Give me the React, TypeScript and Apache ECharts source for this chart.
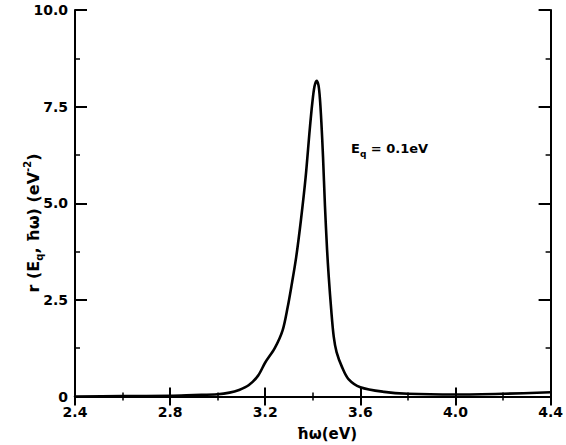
import React, { useEffect, useRef } from "react";
import * as echarts from "echarts";

const photonEnergy: number[] = [
  2.4, 2.6, 2.8, 2.9, 3.0, 3.05, 3.09, 3.13, 3.17, 3.2, 3.24, 3.273, 3.294, 3.31,
  3.33, 3.35, 3.37, 3.387, 3.398, 3.407, 3.416, 3.424, 3.43, 3.436, 3.443, 3.451,
  3.46, 3.467, 3.478, 3.488, 3.5, 3.523, 3.55, 3.6, 3.7, 3.8, 4.0, 4.2, 4.4,
];
const rateValues: number[] = [
  0.0, 0.01, 0.02, 0.04, 0.06, 0.1, 0.17, 0.29, 0.54, 0.88, 1.25, 1.71, 2.3, 2.85,
  3.6, 4.56, 5.68, 6.9, 7.6, 8.02, 8.17, 8.05, 7.7, 7.1, 6.2, 4.95,
  3.8, 3.1, 2.2, 1.55, 1.15, 0.76, 0.45, 0.24, 0.12, 0.07, 0.05, 0.07, 0.11,
];
const xRange = { min: 2.4, max: 4.4, interval: 0.4 };
const yRange = { min: 0, max: 10, interval: 2.5 };

const FONT = "DejaVu Sans";

export default function App() {
  const ref = useRef<HTMLDivElement>(null);
  useEffect(() => {
    if (!ref.current) return;
    const chart = echarts.init(ref.current, null, { renderer: "svg" });
    const data = photonEnergy.map((x, i) => [x, rateValues[i]]);
    const axisLine = { show: true, lineStyle: { color: "#000", width: 2 } };
    const xTick = { show: true, inside: true, length: 9, lineStyle: { color: "#000", width: 2 } };
    const xMinor = { show: true, splitNumber: 2, length: 4, lineStyle: { color: "#000", width: 1.5 } };
    const yTick = { show: true, inside: true, length: 12, lineStyle: { color: "#000", width: 2 } };
    const yMinor = { show: true, splitNumber: 2, length: 5, lineStyle: { color: "#000", width: 1.5 } };
    const labelFont = {
      color: "#000",
      fontFamily: FONT,
      fontWeight: "bold" as const,
      fontSize: 14,
    };
    chart.setOption({
      animation: false,
      backgroundColor: "#fff",
      grid: { left: 75, right: 10, top: 10, bottom: 48.5, containLabel: false },
      xAxis: [
        {
          type: "value",
          ...xRange,
          position: "bottom",
          axisLine,
          axisTick: xTick,
          minorTick: xMinor,
          splitLine: { show: false },
          axisLabel: {
            margin: 8,
            ...labelFont,
            formatter: (v: number) => v.toFixed(1),
          },
        },
        {
          type: "value",
          ...xRange,
          position: "top",
          axisLine,
          axisTick: xTick,
          minorTick: xMinor,
          splitLine: { show: false },
          axisLabel: { show: false },
        },
      ],
      yAxis: [
        {
          type: "value",
          ...yRange,
          position: "left",
          axisLine,
          axisTick: yTick,
          minorTick: yMinor,
          splitLine: { show: false },
          axisLabel: {
            margin: 7,
            ...labelFont,
            formatter: (v: number) => (v === 0 ? "0" : v.toFixed(1)),
          },
        },
        {
          type: "value",
          ...yRange,
          position: "right",
          axisLine,
          axisTick: yTick,
          minorTick: yMinor,
          splitLine: { show: false },
          axisLabel: { show: false },
        },
      ],
      series: [
        {
          type: "line",
          data,
          smooth: 0.3,
          showSymbol: false,
          symbol: "none",
          lineStyle: { color: "#000", width: 2.6, join: "round", cap: "round" },
        },
      ],
      graphic: [
        {
          type: "text",
          x: 327,
          y: 434,
          style: {
            text: "ħω(eV)",
            fill: "#000",
            font: `bold 15px "${FONT}"`,
            align: "center",
            verticalAlign: "middle",
          },
        },
        {
          type: "text",
          x: 33,
          y: 223,
          rotation: Math.PI / 2,
          style: {
            text: "r (E{sub|q}, ħω) (eV{sup|-2})",
            fill: "#000",
            font: `bold 16px "${FONT}"`,
            align: "center",
            verticalAlign: "middle",
            lineHeight: 22,
            rich: {
              sub: { fontSize: 10, fontWeight: "bold", fontFamily: FONT, verticalAlign: "bottom", fill: "#000", lineHeight: 22 },
              sup: { fontSize: 10, fontWeight: "bold", fontFamily: FONT, verticalAlign: "top", fill: "#000", lineHeight: 22 },
            },
          },
        },
        {
          type: "text",
          x: 351,
          y: 148,
          style: {
            text: "E{sub|q} = 0.1eV",
            fill: "#000",
            font: `bold 13px "${FONT}"`,
            align: "left",
            verticalAlign: "middle",
            lineHeight: 20,
            rich: {
              sub: { fontSize: 9, fontWeight: "bold", fontFamily: FONT, verticalAlign: "bottom", fill: "#000", lineHeight: 20 },
            },
          },
        },
      ],
    });
    return () => chart.dispose();
  }, []);
  return <div ref={ref} style={{ width: 566, height: 445, position: "absolute", left: 0, top: 0 }} />;
}
